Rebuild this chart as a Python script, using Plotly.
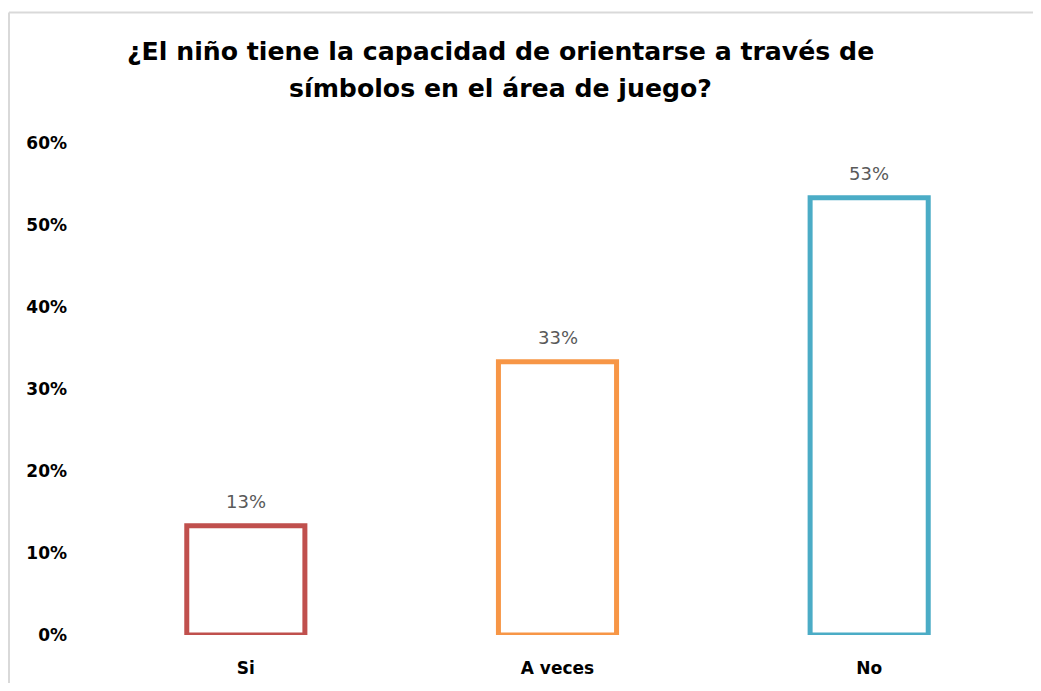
import plotly.graph_objects as go

categories = ["Si", "A veces", "No"]
values = [0.1333, 0.3333, 0.5333]
labels = ["13%", "33%", "53%"]
colors = ["#C0504D", "#F79646", "#4BACC6"]
tick_vals = [0, 0.1, 0.2, 0.3, 0.4, 0.5, 0.6]
tick_text = ["0%", "10%", "20%", "30%", "40%", "50%", "60%"]
title_lines = ["¿El niño tiene la capacidad de orientarse a través de",
               "símbolos en el área de juego?"]

# page body has an 8px margin, so the figure is sized to fit inside the window
W, H = 1025, 675
L, R, T, B = 82, 8, 135, 48
pw = W - L - R
ph = H - T - B


def px(x):
    return (x - L) / pw


def py(y):
    return (H - B - y) / ph


FONT = "DejaVu Sans, sans-serif"

fig = go.Figure()
fig.add_trace(go.Bar(
    x=categories, y=values,
    marker=dict(color="rgba(255,255,255,0)", line=dict(color=colors, width=5)),
    width=0.379, hoverinfo="skip", showlegend=False,
))

for c, v, t in zip(categories, values, labels):
    fig.add_annotation(x=c, y=v, text=t, showarrow=False, yanchor="bottom", yshift=12,
                       font=dict(family=FONT, size=18, color="#595959"))

for i, (line, yc) in enumerate(zip(title_lines, [43.5, 81])):
    fig.add_annotation(xref="paper", yref="paper", x=px(492), y=py(yc), xanchor="center",
                       yanchor="middle", text="<b>" + line + "</b>", showarrow=False,
                       font=dict(family=FONT, size=25.2, color="#000000"))

fig.add_shape(type="line", xref="paper", yref="paper", x0=px(1), x1=px(1), y0=py(H + 10), y1=py(4.5),
              line=dict(color="#D9D9D9", width=2))
fig.add_shape(type="line", xref="paper", yref="paper", x0=px(1), x1=px(W + 10), y0=py(4.5), y1=py(4.5),
              line=dict(color="#D9D9D9", width=2))

fig.update_layout(
    width=W, height=H,
    margin=dict(l=L, r=R, t=T, b=B, pad=0, autoexpand=False),
    paper_bgcolor="white", plot_bgcolor="white",
    xaxis=dict(showline=False, showgrid=False, zeroline=False, ticks="", automargin=False,
               tickfont=dict(family=FONT, size=17, color="#000000", weight="bold"),
               ticklabelstandoff=21),
    yaxis=dict(range=[0, 0.6], tickvals=tick_vals, ticktext=tick_text, showgrid=False, showline=False,
               zeroline=False, ticks="", automargin=False,
               tickfont=dict(family=FONT, size=17, color="#000000", weight="bold"),
               ticklabelstandoff=22),
)

fig.write_html("out.html")
